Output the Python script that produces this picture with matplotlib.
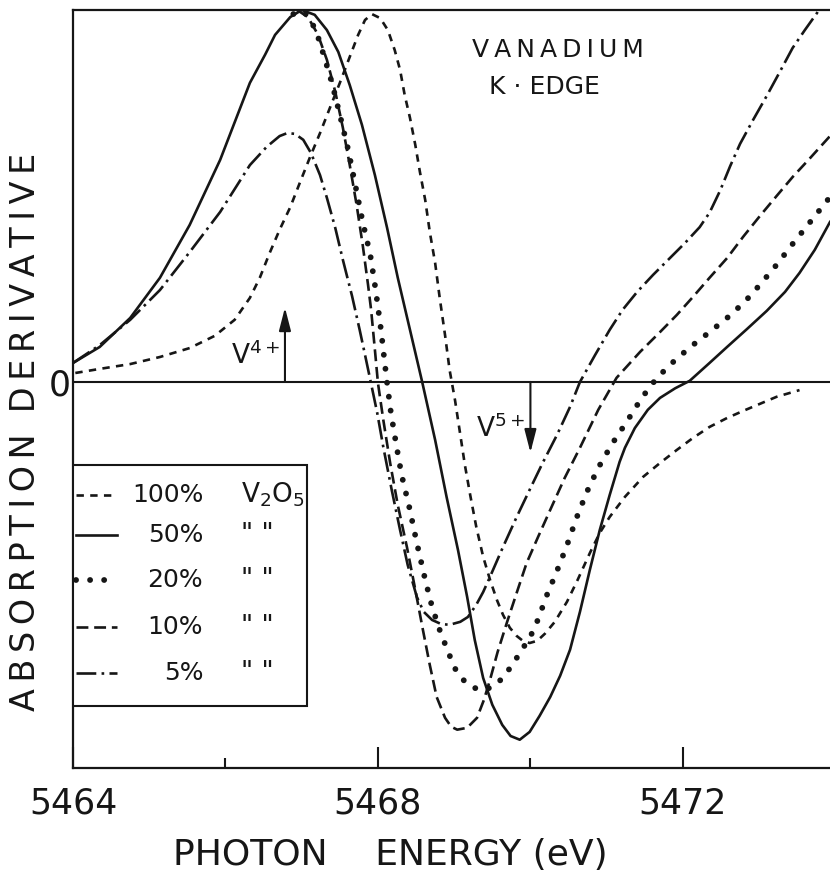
import matplotlib.pyplot as plt
from matplotlib.patches import Rectangle

plt.rcParams['font.family'] = ['DejaVu Sans']
plt.rcParams['mathtext.fontset'] = 'dejavusans'

INK = '#161616'

# photon energy (eV) and absorption derivative (arb. units, 0 = baseline)
e100 = [5464.03, 5464.35, 5464.75, 5465.14, 5465.53, 5465.86, 5466.12, 5466.32, 5466.45, 5466.58,
        5466.71, 5466.85, 5466.98, 5467.11, 5467.24, 5467.37, 5467.50, 5467.63, 5467.74, 5467.83,
        5467.92, 5468.03, 5468.13, 5468.22, 5468.29, 5468.35, 5468.42, 5468.49, 5468.55, 5468.62,
        5468.68, 5468.75, 5468.81, 5468.88, 5468.94, 5469.01, 5469.08, 5469.14, 5469.21, 5469.29,
        5469.38, 5469.47, 5469.56, 5469.64, 5469.73, 5469.82, 5469.90, 5469.99, 5470.09, 5470.19,
        5470.32, 5470.48, 5470.62, 5470.78, 5470.91, 5471.04, 5471.24, 5471.48, 5471.70, 5471.92,
        5472.13, 5472.35, 5472.58, 5472.79, 5473.01, 5473.23, 5473.53]
d100 = [0.024, 0.035, 0.048, 0.067, 0.091, 0.124, 0.167, 0.226, 0.280, 0.347,
        0.409, 0.470, 0.538, 0.605, 0.669, 0.737, 0.804, 0.874, 0.933, 0.973,
        0.989, 0.978, 0.946, 0.892, 0.839, 0.772, 0.710, 0.637, 0.565, 0.489,
        0.403, 0.320, 0.226, 0.126, 0.032, -0.048, -0.142, -0.223, -0.304, -0.390,
        -0.470, -0.532, -0.586, -0.626, -0.661, -0.683, -0.696, -0.702, -0.696, -0.677,
        -0.645, -0.591, -0.532, -0.460, -0.406, -0.363, -0.309, -0.255, -0.218, -0.183,
        -0.151, -0.121, -0.097, -0.078, -0.059, -0.040, -0.022]

e50 = [5464.00, 5464.35, 5464.75, 5465.14, 5465.53, 5465.93, 5466.32, 5466.52, 5466.65, 5466.85,
       5467.00, 5467.17, 5467.33, 5467.48, 5467.63, 5467.79, 5467.96, 5468.12, 5468.26, 5468.42,
       5468.58, 5468.75, 5468.90, 5469.05, 5469.17, 5469.27, 5469.38, 5469.50, 5469.63, 5469.74,
       5469.86, 5469.99, 5470.12, 5470.26, 5470.39, 5470.52, 5470.65, 5470.78, 5470.91, 5471.04,
       5471.17, 5471.24, 5471.37, 5471.54, 5471.70, 5471.90, 5472.09, 5472.35, 5472.58, 5472.84,
       5473.10, 5473.34, 5473.53, 5473.73, 5473.93]
d50 = [0.051, 0.094, 0.172, 0.280, 0.422, 0.597, 0.804, 0.880, 0.933, 0.981,
       1.000, 0.987, 0.946, 0.887, 0.798, 0.691, 0.556, 0.414, 0.280, 0.140,
       0.000, -0.156, -0.309, -0.452, -0.578, -0.694, -0.796, -0.868, -0.922, -0.952,
       -0.962, -0.941, -0.898, -0.847, -0.790, -0.720, -0.618, -0.505, -0.398, -0.304,
       -0.215, -0.177, -0.124, -0.075, -0.043, -0.017, 0.003, 0.051, 0.094, 0.142,
       0.191, 0.242, 0.293, 0.355, 0.430]

e20 = [5466.89, 5467.02, 5467.12, 5467.21, 5467.30, 5467.40, 5467.50, 5467.61, 5467.71, 5467.80,
       5467.90, 5467.97, 5468.04, 5468.08, 5468.12, 5468.17, 5468.24, 5468.31, 5468.41, 5468.51,
       5468.62, 5468.71, 5468.81, 5468.92, 5469.02, 5469.14, 5469.27, 5469.40, 5469.53, 5469.65,
       5469.77, 5469.89, 5470.01, 5470.11, 5470.20, 5470.30, 5470.39, 5470.49, 5470.61, 5470.74,
       5470.89, 5471.07, 5471.27, 5471.46, 5471.66, 5471.90, 5472.13, 5472.35, 5472.58, 5472.81,
       5473.01, 5473.23, 5473.44, 5473.67, 5473.93]
d20 = [0.989, 0.997, 0.973, 0.930, 0.871, 0.801, 0.718, 0.624, 0.522, 0.430,
       0.341, 0.247, 0.140, 0.067, -0.003, -0.083, -0.169, -0.250, -0.336, -0.433,
       -0.532, -0.605, -0.667, -0.726, -0.774, -0.806, -0.823, -0.828, -0.817, -0.793,
       -0.758, -0.720, -0.680, -0.634, -0.581, -0.532, -0.487, -0.433, -0.363, -0.296,
       -0.231, -0.167, -0.105, -0.043, 0.011, 0.059, 0.099, 0.134, 0.172, 0.215,
       0.261, 0.315, 0.371, 0.430, 0.497]

e10 = [5466.94, 5467.08, 5467.21, 5467.33, 5467.44, 5467.54, 5467.63, 5467.72, 5467.80, 5467.87,
       5467.91, 5467.96, 5468.00, 5468.07, 5468.16, 5468.26, 5468.38, 5468.49, 5468.59, 5468.68,
       5468.77, 5468.88, 5468.96, 5469.04, 5469.17, 5469.30, 5469.39, 5469.47, 5469.57, 5469.69,
       5469.82, 5469.95, 5470.10, 5470.26, 5470.45, 5470.65, 5470.89, 5471.13, 5471.44, 5471.70,
       5471.92, 5472.13, 5472.35, 5472.58, 5472.79, 5473.01, 5473.23, 5473.44, 5473.67, 5473.93]
d10 = [1.000, 0.981, 0.935, 0.866, 0.780, 0.683, 0.583, 0.476, 0.368, 0.261,
       0.194, 0.086, -0.003, -0.102, -0.218, -0.331, -0.444, -0.559, -0.667, -0.761,
       -0.847, -0.903, -0.927, -0.935, -0.930, -0.903, -0.855, -0.801, -0.726, -0.648,
       -0.567, -0.487, -0.417, -0.344, -0.258, -0.177, -0.075, 0.011, 0.081, 0.134,
       0.180, 0.228, 0.280, 0.333, 0.390, 0.446, 0.500, 0.551, 0.602, 0.661]

e5 = [5464.00, 5464.35, 5464.75, 5465.14, 5465.53, 5465.93, 5466.32, 5466.54, 5466.71, 5466.81,
      5466.91, 5467.02, 5467.12, 5467.24, 5467.33, 5467.44, 5467.54, 5467.66, 5467.76, 5467.83,
      5467.90, 5467.99, 5468.07, 5468.18, 5468.29, 5468.39, 5468.51, 5468.60, 5468.71, 5468.83,
      5468.94, 5469.08, 5469.18, 5469.29, 5469.38, 5469.47, 5469.64, 5469.82, 5469.99, 5470.16,
      5470.35, 5470.52, 5470.65, 5470.85, 5471.04, 5471.21, 5471.40, 5471.61, 5471.83, 5472.03,
      5472.22, 5472.35, 5472.49, 5472.62, 5472.75, 5472.92, 5473.10, 5473.27, 5473.44, 5473.60,
      5473.76, 5473.93]
d5 = [0.051, 0.099, 0.167, 0.247, 0.349, 0.457, 0.583, 0.632, 0.661, 0.669,
      0.667, 0.651, 0.616, 0.556, 0.495, 0.414, 0.328, 0.231, 0.140, 0.073,
      0.005, -0.083, -0.175, -0.290, -0.398, -0.492, -0.578, -0.618, -0.640, -0.651,
      -0.653, -0.645, -0.632, -0.599, -0.565, -0.524, -0.444, -0.363, -0.290, -0.218,
      -0.142, -0.067, 0.000, 0.073, 0.140, 0.194, 0.242, 0.288, 0.333, 0.374,
      0.416, 0.455, 0.515, 0.580, 0.640, 0.704, 0.769, 0.833, 0.898, 0.946,
      0.992, 1.054]

pct_labels = ['100%', '50%', '20%', '10%', '5%']
ditto = ['V$_2$O$_5$', '" "', '" "', '" "', '" "']
series = [(e100, d100), (e50, d50), (e20, d20), (e10, d10), (e5, d5)]

styles = [
    dict(ls=(0, (2.8, 2.4)), lw=1.9),
    dict(ls='-', lw=1.9),
    dict(ls=(0, (0.01, 2.4)), lw=4.2, dash_capstyle='round'),
    dict(ls=(0, (4.5, 2.2)), lw=1.9),
    dict(ls=(0, (7.5, 2.0, 1.0, 2.0)), lw=1.9),
]

fig = plt.figure(figsize=(8.3, 8.75), dpi=100)
ax = fig.add_axes([0.088, 0.1223, 0.912, 0.8663])

for (e, d), st in zip(series, styles):
    ax.plot(e, d, color=INK, solid_joinstyle='round', **st)

ax.axhline(0, color=INK, lw=1.5)
ax.set_xlim(5464, 5473.93)
ax.set_ylim(-1.038, 1.0)

for side in ['left', 'bottom', 'top']:
    ax.spines[side].set_linewidth(1.6)
    ax.spines[side].set_color(INK)
ax.spines['right'].set_visible(False)

ax.set_xticks([5464, 5468, 5472])
ax.set_xticks([5466, 5470], minor=True)
ax.tick_params(axis='x', which='major', direction='in', length=15, width=1.5,
               labelsize=25, pad=13, colors=INK)
ax.tick_params(axis='x', which='minor', direction='in', length=7, width=1.5, colors=INK)
ax.set_yticks([0])
ax.set_yticklabels(['0'])
ax.tick_params(axis='y', length=0, labelsize=25, pad=2, colors=INK)

thin = '\u2009'
ax.set_ylabel(thin.join('ABSORPTION') + '  ' + thin.join('DERIVATIVE'),
              fontsize=24, color=INK, va='center')
ax.yaxis.set_label_coords(-0.063, 0.443)
ax.set_xlabel('PHOTON\u2003 ENERGY (eV)', fontsize=26, color=INK, va='center')
ax.xaxis.set_label_coords(0.419, -0.115)

ax.text(5470.36, 0.892, thin.join('VANADIUM'), fontsize=18, color=INK, ha='center', va='center')
ax.text(5470.19, 0.793, 'K \u00b7 EDGE', fontsize=18, color=INK, ha='center', va='center')

# oxidation state markers
ax.annotate('', xy=(5466.78, 0.20), xytext=(5466.78, 0),
            arrowprops=dict(arrowstyle='-|>,head_width=0.18,head_length=0.7', color=INK,
                            lw=1.5, shrinkA=0, shrinkB=0, mutation_scale=20))
ax.text(5466.72, 0.07, 'V$^{4+}$', fontsize=19, color=INK, ha='right', va='center')
ax.annotate('', xy=(5470.0, -0.19), xytext=(5470.0, 0),
            arrowprops=dict(arrowstyle='-|>,head_width=0.18,head_length=0.7', color=INK,
                            lw=1.5, shrinkA=0, shrinkB=0, mutation_scale=20))
ax.text(5469.93, -0.125, 'V$^{5+}$', fontsize=19, color=INK, ha='right', va='center')

# legend box drawn in axes fraction
ax.add_patch(Rectangle((0, 0.082), 0.309, 0.318, transform=ax.transAxes,
                       facecolor='white', edgecolor=INK, lw=1.5, zorder=4))
rows = [0.360, 0.307, 0.248, 0.186, 0.125]
for y, st, pct, dt in zip(rows, styles, pct_labels, ditto):
    ax.plot([0.004, 0.058], [y, y], transform=ax.transAxes, color=INK, zorder=5,
            clip_on=False, **st)
    ax.text(0.172, y, pct, transform=ax.transAxes, fontsize=18, color=INK,
            ha='right', va='center', zorder=5)
    ax.text(0.222, y, dt, transform=ax.transAxes, fontsize=19, color=INK,
            ha='left', va='center', zorder=5)

fig.savefig('out.png', dpi=100, facecolor='white')
